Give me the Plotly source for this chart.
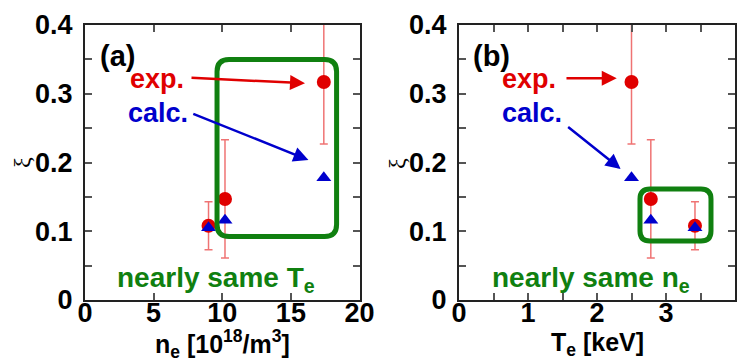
import plotly.graph_objects as go

# Measured discharges: density, temperature, experimental and calculated xi
ne = [9.0, 10.2, 17.4]          # 10^18 m^-3
te = [3.42, 2.78, 2.5]          # keV
xi_exp = [0.108, 0.147, 0.317]
xi_exp_err = [0.035, 0.086, 0.09]
xi_calc = [0.105, 0.116, 0.178]

y_ticks = [0, 0.05, 0.1, 0.15, 0.2, 0.25, 0.3, 0.35, 0.4]
y_labels = ["0", "", "0.1", "", "0.2", "", "0.3", "", "0.4"]
x1_ticks = [0, 5, 10, 15, 20]
x1_labels = ["0", "5", "10", "15", "20"]
x2_ticks = [0, 0.5, 1, 1.5, 2, 2.5, 3, 3.5, 4]
x2_labels = ["0", "", "1", "", "2", "", "3", "", "4"]

RED = "#e00000"
BLUE = "#0000cc"
GREEN = "#108010"
FONT = "Liberation Sans"

W, H = 740, 361
# plot areas in pixels (left, right, top, bottom)
PA = (85, 359.5, 25, 300)
PB = (459, 735, 25, 300)

fig = go.Figure()

for xs, xa, ya in ((ne, "x", "y"), (te, "x2", "y2")):
    fig.add_trace(go.Scatter(
        x=xs, y=xi_exp, xaxis=xa, yaxis=ya, mode="markers",
        marker=dict(symbol="circle", size=14, color=RED),
        error_y=dict(type="data", array=xi_exp_err, visible=True,
                     color="rgba(225,0,0,0.55)", thickness=1.5, width=4),
        showlegend=False))
    fig.add_trace(go.Scatter(
        x=xs, y=xi_calc, xaxis=xa, yaxis=ya, mode="markers",
        marker=dict(symbol="triangle-up", size=13, color=BLUE),
        showlegend=False))

axis_common = dict(
    showline=True, linecolor="#222222", linewidth=2, mirror="allticks",
    ticks="inside", ticklen=7, tickwidth=1.5, tickcolor="#555555",
    showgrid=False, zeroline=False, automargin=False,
    tickfont=dict(family=FONT, size=27, color="black", weight="bold"),
)

fig.update_layout(
    width=W, height=H, margin=dict(l=0, r=0, t=0, b=0, autoexpand=False),
    paper_bgcolor="white", plot_bgcolor="white",
    xaxis=dict(domain=[PA[0] / W, PA[1] / W], range=[0, 20], anchor="y",
               tickmode="array", tickvals=x1_ticks, ticktext=x1_labels,
               ticklabelstandoff=-12, **axis_common),
    yaxis=dict(domain=[1 - PA[3] / H, 1 - PA[2] / H], range=[0, 0.4], anchor="x",
               tickmode="array", tickvals=y_ticks, ticktext=y_labels,
               ticklabelstandoff=5, **axis_common),
    xaxis2=dict(domain=[PB[0] / W, PB[1] / W], range=[0, 4], anchor="y2",
                tickmode="array", tickvals=x2_ticks, ticktext=x2_labels,
                ticklabelstandoff=-12, **axis_common),
    yaxis2=dict(domain=[1 - PB[3] / H, 1 - PB[2] / H], range=[0, 0.4], anchor="x2",
                tickmode="array", tickvals=y_ticks, ticktext=y_labels,
                ticklabelstandoff=5, **axis_common),
)


def rounded_box(x0, x1, y0, y1, rpx, area, xr, yr):
    """SVG path of a rounded rectangle in data units, corner radius given in px."""
    sx = (area[1] - area[0]) / (xr[1] - xr[0])
    sy = (area[3] - area[2]) / (yr[1] - yr[0])
    rx, ry = rpx / sx, rpx / sy
    return (f"M {x0 + rx},{y1} L {x1 - rx},{y1} Q {x1},{y1} {x1},{y1 - ry} "
            f"L {x1},{y0 + ry} Q {x1},{y0} {x1 - rx},{y0} "
            f"L {x0 + rx},{y0} Q {x0},{y0} {x0},{y0 + ry} "
            f"L {x0},{y1 - ry} Q {x0},{y1} {x0 + rx},{y1} Z")


fig.add_shape(type="path", xref="x", yref="y",
              path=rounded_box(9.62, 18.33, 0.0924, 0.35, 12, PA, (0, 20), (0, 0.4)),
              line=dict(color=GREEN, width=5))
fig.add_shape(type="path", xref="x2", yref="y2",
              path=rounded_box(2.623, 3.652, 0.0858, 0.1615, 10, PB, (0, 4), (0, 0.4)),
              line=dict(color=GREEN, width=5))


def label(text, x, y, xr, yr, color, size=27, xanchor="left"):
    fig.add_annotation(text=text, x=x, y=y, xref=xr, yref=yr, showarrow=False,
                       xanchor=xanchor, yanchor="middle",
                       font=dict(family=FONT, size=size, color=color, weight="bold"))


def arrow(x0, y0, x1, y1, xr, yr, color):
    fig.add_annotation(text="", x=x1, y=y1, ax=x0, ay=y0, xref=xr, yref=yr,
                       axref=xr, ayref=yr, showarrow=True, arrowhead=2,
                       arrowsize=1.2, arrowwidth=2.5, arrowcolor=color, standoff=0)


# panel (a)
label("(a)", 0.95, 0.355, "x", "y", "black", size=29)
label("exp.", 3.1, 0.322, "x", "y", RED)
label("calc.", 3.0, 0.272, "x", "y", BLUE)
arrow(7.65, 0.3233, 16.03, 0.3152, "x", "y", RED)
arrow(7.78, 0.2716, 16.28, 0.2036, "x", "y", BLUE)
label("nearly same T<sub>e</sub>", 2.2, 0.03, "x", "y", GREEN, size=28)

# panel (b)
label("(b)", 0.18, 0.355, "x2", "y2", "black", size=29)
label("exp.", 0.6, 0.322, "x2", "y2", RED)
label("calc.", 0.6, 0.272, "x2", "y2", BLUE)
arrow(1.536, 0.3225, 2.286, 0.3225, "x2", "y2", RED)
arrow(1.56, 0.2535, 2.343, 0.1905, "x2", "y2", BLUE)
label("nearly same n<sub>e</sub>", 0.45, 0.03, "x2", "y2", GREEN, size=28)

# axis titles
for text, xc in (("n<sub>e</sub> [10<sup>18</sup>/m<sup>3</sup>]", (PA[0] + PA[1]) / 2),
                 ("T<sub>e</sub> [keV]", (PB[0] + PB[1]) / 2)):
    fig.add_annotation(text=text, x=xc / W, y=1 - 344 / H, xref="paper", yref="paper",
                       showarrow=False, xanchor="center", yanchor="middle",
                       font=dict(family=FONT, size=25, color="black", weight="bold"))

for xc in (22, 397):
    fig.add_annotation(text="ξ", x=xc / W, y=1 - 163 / H, xref="paper", yref="paper",
                       showarrow=False, textangle=-90, xanchor="center", yanchor="middle",
                       font=dict(family="Liberation Serif", size=24, color="black"))

fig.write_html("out.html")
